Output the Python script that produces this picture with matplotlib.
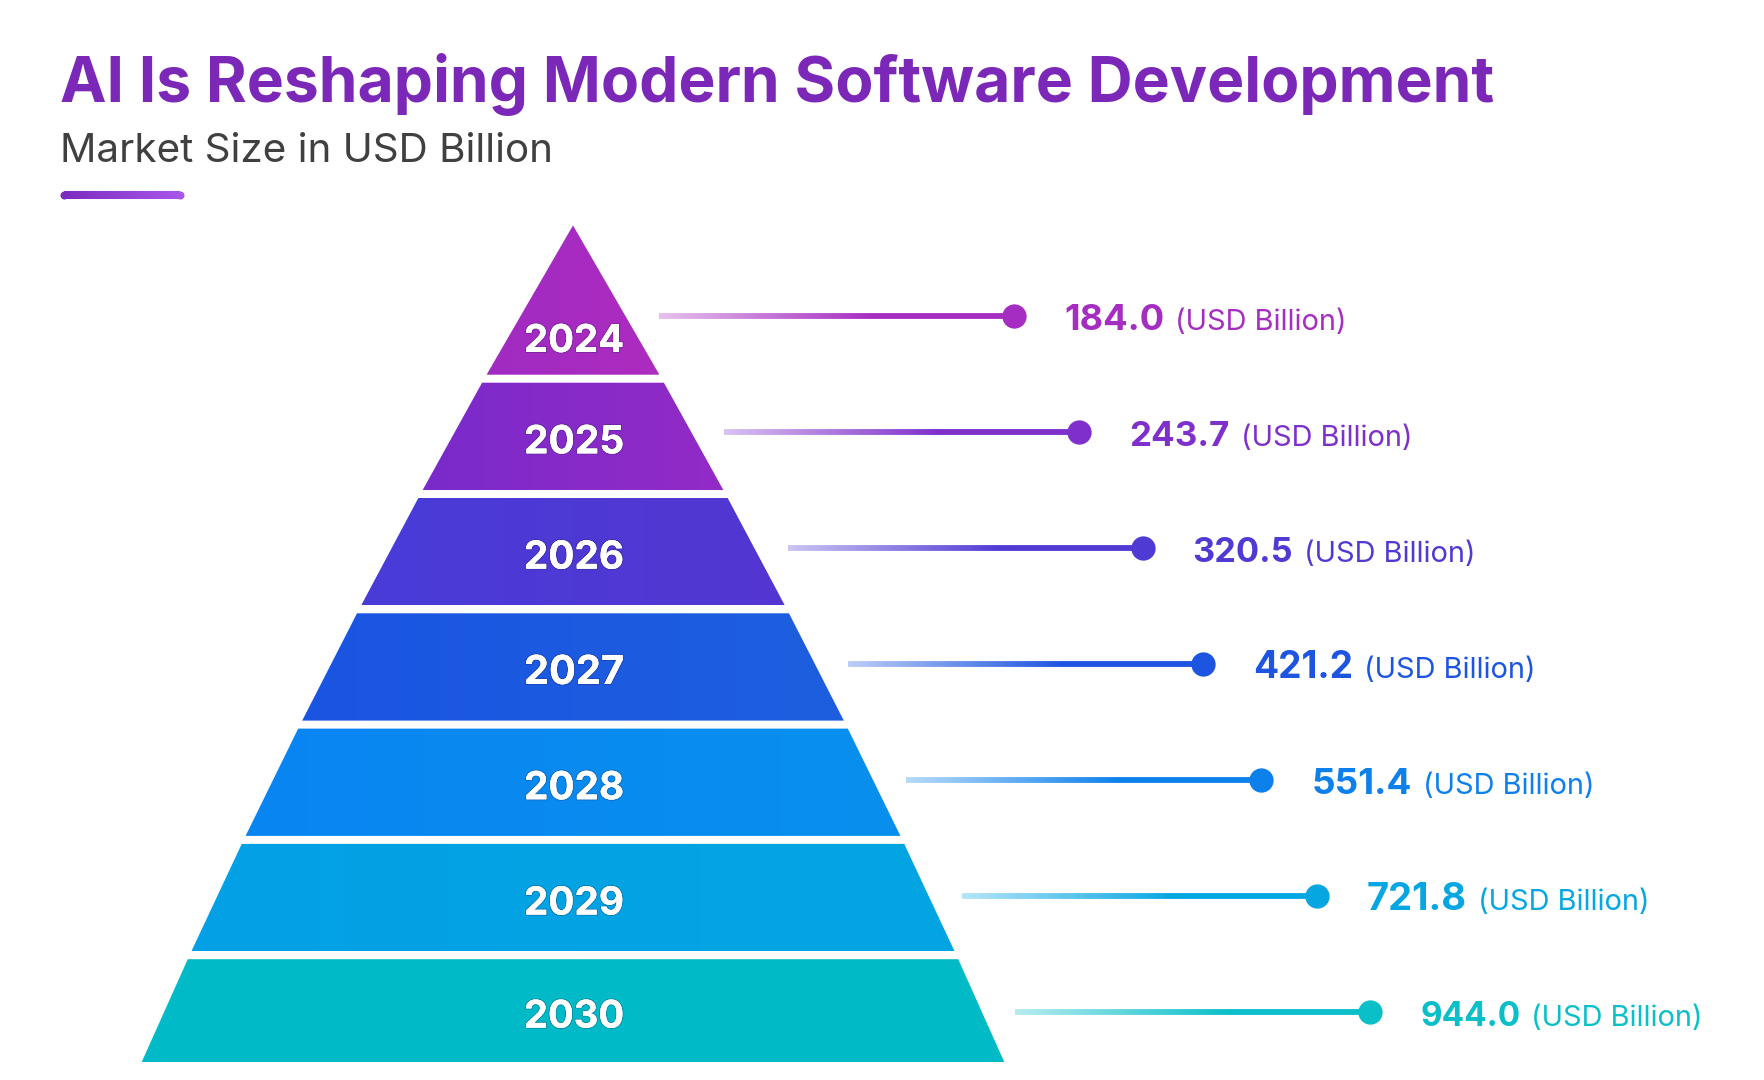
import numpy as np
import matplotlib.pyplot as plt
from matplotlib.patches import Polygon
from matplotlib.collections import LineCollection
from matplotlib.colors import to_rgb
import matplotlib.patheffects as pe

# data
years = ["2024", "2025", "2026", "2027", "2028", "2029", "2030"]
market_size = [184.0, 243.7, 320.5, 421.2, 551.4, 721.8, 944.0]
unit_text = "(USD Billion)"
title_text = "AI Is Reshaping Modern Software Development"
subtitle_text = "Market Size in USD Billion"

# colours
tier_left = ["#A02BC2", "#7A2BCB", "#483CD8", "#1A55E2", "#0A85F2", "#04A0E6", "#00BAC9"]
tier_right = ["#AE2BBF", "#932AC6", "#5436D1", "#1E5FDF", "#0890EE", "#02A6E1", "#00BCC6"]
value_colors = ["#A62DC1", "#7F2FCC", "#4F3BD4", "#1D55E0", "#0D80EC", "#06A6E3", "#0BBFC9"]
title_color = "#7B28B8"

W, H = 1764, 1080
fig = plt.figure(figsize=(W / 100, H / 100), dpi=100)
fig.patch.set_facecolor("white")
ax = fig.add_axes([0, 0, 1, 1])
ax.set_xlim(0, W)
ax.set_ylim(H, 0)
ax.set_autoscale_on(False)
ax.axis("off")
renderer = fig.canvas.get_renderer()

FONT = ["Inter", "DejaVu Sans"]


def fit_width(t, target):
    bb = t.get_window_extent(renderer)
    t.set_fontsize(t.get_fontsize() * target / bb.width)


def mix(c1, c2, f):
    a, b = np.array(to_rgb(c1)), np.array(to_rgb(c2))
    return a + (b - a) * f


# pyramid layout
cx = 573
apex_y = 225.4
pitch = 115.3
gap = 8
first_bottom = 374.7
base_y = 1062


def half_width(y):
    d = y - apex_y
    return 0.5924 * d - 9.19e-5 * d * d


n = len(years)
bottoms = [first_bottom + pitch * i for i in range(n)]
bottoms[-1] = base_y
tops = [apex_y] + [b + gap for b in bottoms[:-1]]

for i in range(n):
    t, b = tops[i], bottoms[i]
    pts = [(cx - half_width(t), t), (cx + half_width(t), t),
           (cx + half_width(b), b), (cx - half_width(b), b)]
    poly = Polygon(pts, closed=True, facecolor="none", edgecolor="none")
    ax.add_patch(poly)
    x0, x1 = cx - half_width(b), cx + half_width(b)
    grad = np.linspace(0, 1, 256)
    img = np.array([mix(tier_left[i], tier_right[i], g) for g in grad])[None, :, :]
    im = ax.imshow(img, extent=(x0, x1, b, t), origin="upper", aspect="auto",
                   interpolation="bilinear", zorder=2)
    im.set_clip_path(poly)

    if i == 0:
        ly = t + 0.734 * (b - t)
    else:
        ly = (t + b) / 2
    txt = ax.text(cx + 1, ly + 17, years[i], color="white", fontsize=30,
                  fontweight="bold", family=FONT, ha="center", va="baseline", zorder=4)
    fit_width(txt, 100)
    txt.set_path_effects([pe.withStroke(linewidth=1.6, foreground=(0.1, 0.1, 0.3, 0.25)),
                          pe.Normal()])

# leader lines, dots and values
line_len = 355
for i in range(n):
    y = 316 + 116 * i
    xs = cx + half_width(y) + 33
    xe = xs + line_len
    c = value_colors[i]
    segx = np.linspace(xs, xe, 120)
    segs = [[(segx[k], y), (segx[k + 1], y)] for k in range(len(segx) - 1)]
    fr = np.clip(np.linspace(0, 1, len(segs)) / 0.6, 0, 1)
    cols = [mix("#FFFFFF", c, 0.3 + 0.7 * f) for f in fr]
    ax.add_collection(LineCollection(segs, colors=cols, linewidths=4.2,
                                     capstyle="butt", zorder=3))
    ax.plot([xe], [y], marker="o", markersize=17.5, color=c, markeredgewidth=0, zorder=4)

    vt = ax.text(xe + 50, y + 14, f"{market_size[i]:.1f}", color=c, fontsize=22,
                 fontweight="bold", family=FONT, ha="left", va="baseline", zorder=4)
    fit_width(vt, 100)
    bb = vt.get_window_extent(renderer)
    x_unit = ax.transData.inverted().transform((bb.x1, bb.y0))[0] + 11
    ut = ax.text(x_unit, y + 14, unit_text, color=c, fontsize=18,
                 family=FONT, ha="left", va="baseline", zorder=4)
    fit_width(ut, 172)

# title block
tt = ax.text(60, 101.7, title_text, color=title_color, fontsize=40, fontweight="bold",
             family=FONT, ha="left", va="baseline")
fit_width(tt, 1435)
st = ax.text(60, 162.3, subtitle_text, color="#404040", fontsize=26,
             family=FONT, ha="left", va="baseline")
fit_width(st, 492)

# accent bar under the subtitle
bx = np.linspace(64, 180, 80)
bsegs = [[(bx[k], 195), (bx[k + 1], 195)] for k in range(len(bx) - 1)]
bcols = [mix("#7B2CBF", "#A855EA", f) for f in np.linspace(0, 1, len(bsegs))]
ax.add_collection(LineCollection(bsegs, colors=bcols, linewidths=5.8, capstyle="butt"))
ax.plot([64], [195], marker="o", markersize=5.8, color="#7B2CBF", markeredgewidth=0)
ax.plot([180], [195], marker="o", markersize=5.8, color="#A855EA", markeredgewidth=0)

fig.savefig("out.png", dpi=100, facecolor="white")
